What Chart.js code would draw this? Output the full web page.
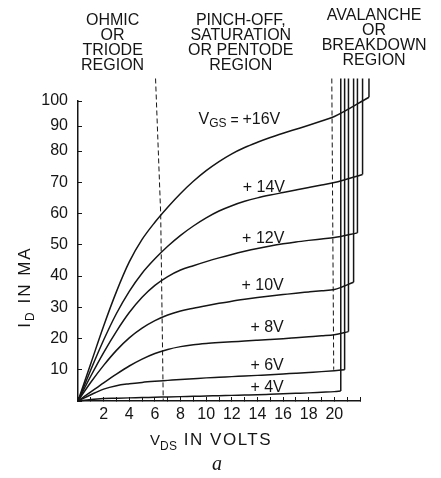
<!DOCTYPE html>
<html>
<head>
<meta charset="utf-8">
<script src="https://cdn.jsdelivr.net/npm/chart.js@4.4.1/dist/chart.umd.min.js"></script>
<style>
  html, body { margin: 0; padding: 0; background: #fff; }
</style>
</head>
<body>
<canvas id="fetChart" width="441" height="478"></canvas>
<script>
// drain-source voltage grid (V) shared by the saturation curves
const vdsGrid = [0, 1, 2, 3, 4, 5, 6, 7, 8, 9, 10, 11, 12, 13, 14, 15, 16, 17, 18, 19, 20];

// drain current (mA) along vdsGrid for each gate bias
const id4 = [0, 0.5, 0.8, 0.9, 1.0, 1.1, 1.2, 1.3, 1.4, 1.5, 1.6, 1.7, 1.8, 1.9, 2.0, 2.15, 2.3, 2.45, 2.6, 2.8, 3.0];
const id6 = [0, 2.0, 3.8, 4.9, 5.5, 5.95, 6.3, 6.6, 6.9, 7.15, 7.4, 7.6, 7.8, 8.0, 8.2, 8.4, 8.65, 8.9, 9.15, 9.4, 9.7];
const id8 = [0, 2.9, 5.8, 8.6, 11.2, 13.4, 15.2, 16.5, 17.4, 18.0, 18.4, 18.7, 18.95, 19.2, 19.45, 19.7, 19.95, 20.25, 20.55, 20.85, 21.2];
const id10 = [0, 6.0, 11.4, 16.2, 20.2, 23.3, 25.7, 27.5, 28.8, 29.7, 30.5, 31.25, 31.95, 32.55, 33.1, 33.6, 34.05, 34.5, 34.9, 35.3, 35.7];
const id12 = [0, 8.0, 15.5, 22.3, 28.3, 33.2, 37.0, 39.8, 41.9, 43.3, 44.6, 45.8, 46.9, 47.9, 48.8, 49.6, 50.3, 50.9, 51.4, 51.85, 52.3];
const id14 = [0, 10.0, 19.5, 28.0, 35.1, 40.9, 45.5, 49.5, 53.0, 56.0, 58.6, 60.8, 62.5, 63.9, 65.0, 65.9, 66.7, 67.5, 68.3, 69.1, 69.9];
const id16 = [0, 12.0, 24.0, 35.0, 44.5, 51.7, 57.2, 62.0, 66.4, 70.3, 73.7, 76.6, 79.1, 81.4, 83.5, 85.4, 87.1, 88.7, 90.3, 92.0, 93.8];

const gateLabels = ['+ 4V', '+ 6V', '+ 8V', '+ 10V', '+ 12V', '+ 14V', '+16V'];

// where each curve turns into avalanche breakdown
const breakdownVds = [20.5, 20.8, 21.1, 21.5, 21.8, 22.2, 22.7];
const breakdownId = [3.2, 10.0, 22.2, 38.0, 53.8, 72.5, 101.5];
const breakdownTop = 109;

// dashed region boundaries
const ohmicEdgeVds = [6.05, 6.45, 6.65];
const ohmicEdgeId = [109, 60, 0];
const avalancheEdgeVds = [19.8, 19.95];
const avalancheEdgeId = [109, 10];

const xTickLabels = [2, 4, 6, 8, 10, 12, 14, 16, 18, 20];

// the drawn current axis is stretched below 80 mA and squeezed above it
class DrawnScale extends Chart.LinearScale {
  toDecimal(v) {
    return v <= 80 ? (v * 250 / 80) / 300 : (250 + (v - 80) * 2.5) / 300;
  }
  getPixelForValue(value) {
    if (value === null || value === undefined || isNaN(value)) return NaN;
    return this.getPixelForDecimal(this.toDecimal(value));
  }
  getValueForPixel(pixel) {
    const d = this.getDecimalForPixel(pixel) * 300;
    return d <= 250 ? d * 80 / 250 : 80 + (d - 250) / 2.5;
  }
}
DrawnScale.id = 'drawn';
DrawnScale.defaults = Chart.LinearScale.defaults;
Chart.register(DrawnScale);

const ink = '#151515';
const sans = '"Liberation Sans", Arial, sans-serif';

const curves = [id4, id6, id8, id10, id12, id14, id16];
const datasets = [];
curves.forEach((ids, k) => {
  const pts = vdsGrid.map((v, i) => ({ x: v, y: ids[i] }));
  pts.push({ x: breakdownVds[k], y: breakdownId[k] });
  datasets.push({
    label: gateLabels[k],
    data: pts,
    borderColor: ink,
    borderWidth: 1.5,
    pointRadius: 0,
    cubicInterpolationMode: 'monotone',
    clip: false
  });
  datasets.push({
    label: gateLabels[k] + ' breakdown',
    data: [{ x: breakdownVds[k], y: breakdownId[k] }, { x: breakdownVds[k], y: breakdownTop }],
    borderColor: ink,
    borderWidth: 1.5,
    pointRadius: 0,
    clip: false
  });
});
datasets.push({
  label: 'ohmic edge',
  data: ohmicEdgeVds.map((v, i) => ({ x: v, y: ohmicEdgeId[i] })),
  borderColor: ink,
  borderWidth: 1,
  borderDash: [5, 3],
  pointRadius: 0,
  clip: false
});
datasets.push({
  label: 'avalanche edge',
  data: avalancheEdgeVds.map((v, i) => ({ x: v, y: avalancheEdgeId[i] })),
  borderColor: ink,
  borderWidth: 1,
  borderDash: [5, 3],
  pointRadius: 0,
  clip: false
});

// draws a run of text pieces (for subscripts) starting at x
function drawRuns(ctx, runs, x, y, align) {
  let w = 0;
  runs.forEach(r => {
    ctx.font = r.font;
    ctx.letterSpacing = r.spacing || '0px';
    w += ctx.measureText(r.text).width;
  });
  let cx = align === 'center' ? x - w / 2 : x;
  runs.forEach(r => {
    ctx.font = r.font;
    ctx.letterSpacing = r.spacing || '0px';
    ctx.fillText(r.text, cx, y + (r.dy || 0));
    cx += ctx.measureText(r.text).width;
  });
  ctx.letterSpacing = '0px';
}

const textPlugin = {
  id: 'fetText',
  afterDraw(chart) {
    const ctx = chart.ctx;
    const xs = chart.scales.x;
    const ys = chart.scales.y;
    ctx.save();
    ctx.fillStyle = ink;
    ctx.textAlign = 'left';
    ctx.textBaseline = 'middle';

    // region headings
    const headings = [
      { v: 2.7, top: 20.5, lines: ['OHMIC', 'OR', 'TRIODE', 'REGION'] },
      { v: 12.7, top: 20.5, lines: ['PINCH-OFF,', 'SATURATION', 'OR PENTODE', 'REGION'] },
      { v: 23.1, top: 15.5, lines: ['AVALANCHE', 'OR', 'BREAKDOWN', 'REGION'] }
    ];
    ctx.font = '16px ' + sans;
    ctx.textAlign = 'center';
    headings.forEach(h => {
      h.lines.forEach((t, i) => ctx.fillText(t, xs.getPixelForValue(h.v), h.top + i * 15));
    });

    // gate bias labels beside each curve
    const spots = [[14.75, 4.3], [14.75, 11.3], [14.75, 23.5], [14.4, 36.9], [14.45, 52.1], [14.5, 68.4]];
    spots.forEach((s, k) => {
      ctx.fillText(gateLabels[k], xs.getPixelForValue(s[0]), ys.getPixelForValue(s[1]));
    });
    ctx.textAlign = 'left';
    drawRuns(ctx, [
      { text: 'V', font: '16px ' + sans },
      { text: 'GS', font: '12px ' + sans, dy: 4 },
      { text: ' = ', font: '14px ' + sans, dy: 2 },
      { text: gateLabels[6], font: '16px ' + sans }
    ], xs.getPixelForValue(9.4), ys.getPixelForValue(92.6), 'left');

    // axis titles
    ctx.textBaseline = 'alphabetic';
    drawRuns(ctx, [
      { text: 'V', font: '15px ' + sans },
      { text: 'DS', font: '12px ' + sans, dy: 5, spacing: '0.5px' },
      { text: ' IN VOLTS', font: '17px ' + sans, spacing: '1.5px' }
    ], 211, 445, 'center');

    ctx.save();
    ctx.translate(30, 287);
    ctx.rotate(-Math.PI / 2);
    drawRuns(ctx, [
      { text: 'I', font: '17px ' + sans, spacing: '2px' },
      { text: 'D', font: '12px ' + sans, dy: 4, spacing: '2px' },
      { text: ' IN MA', font: '17px ' + sans, spacing: '2px' }
    ], 0, 0, 'center');
    ctx.restore();

    ctx.font = 'italic 20px "Liberation Serif", serif';
    ctx.textAlign = 'center';
    ctx.fillText('a', 217, 470);
    ctx.restore();
  }
};

new Chart('fetChart', {
  type: 'line',
  data: { datasets: datasets },
  options: {
    responsive: false,
    devicePixelRatio: 1,
    animation: false,
    events: [],
    layout: { padding: { top: 101, right: 81, bottom: 47, left: 0 } },
    plugins: {
      legend: false,
      tooltip: { enabled: false }
    },
    scales: {
      x: {
        type: 'linear',
        min: 0,
        max: 22,
        border: { color: ink, width: 1.5 },
        grid: { drawOnChartArea: false, tickLength: -4, color: ink },
        ticks: {
          stepSize: 1,
          autoSkip: false,
          maxRotation: 0,
          padding: 8,
          color: ink,
          font: { family: sans, size: 16 },
          callback: v => xTickLabels.includes(v) ? String(v) : ''
        },
        afterFit(s) { s.height = 30; }
      },
      y: {
        type: 'drawn',
        min: 0,
        max: 100,
        border: { color: ink, width: 1.5 },
        grid: { drawOnChartArea: false, tickLength: -4, color: ink },
        ticks: {
          stepSize: 10,
          padding: 14,
          color: ink,
          font: { family: sans, size: 16 },
          callback: v => v === 0 ? '' : String(v)
        },
        afterFit(s) { s.width = 78; }
      }
    }
  },
  plugins: [textPlugin]
});
</script>
</body>
</html>
